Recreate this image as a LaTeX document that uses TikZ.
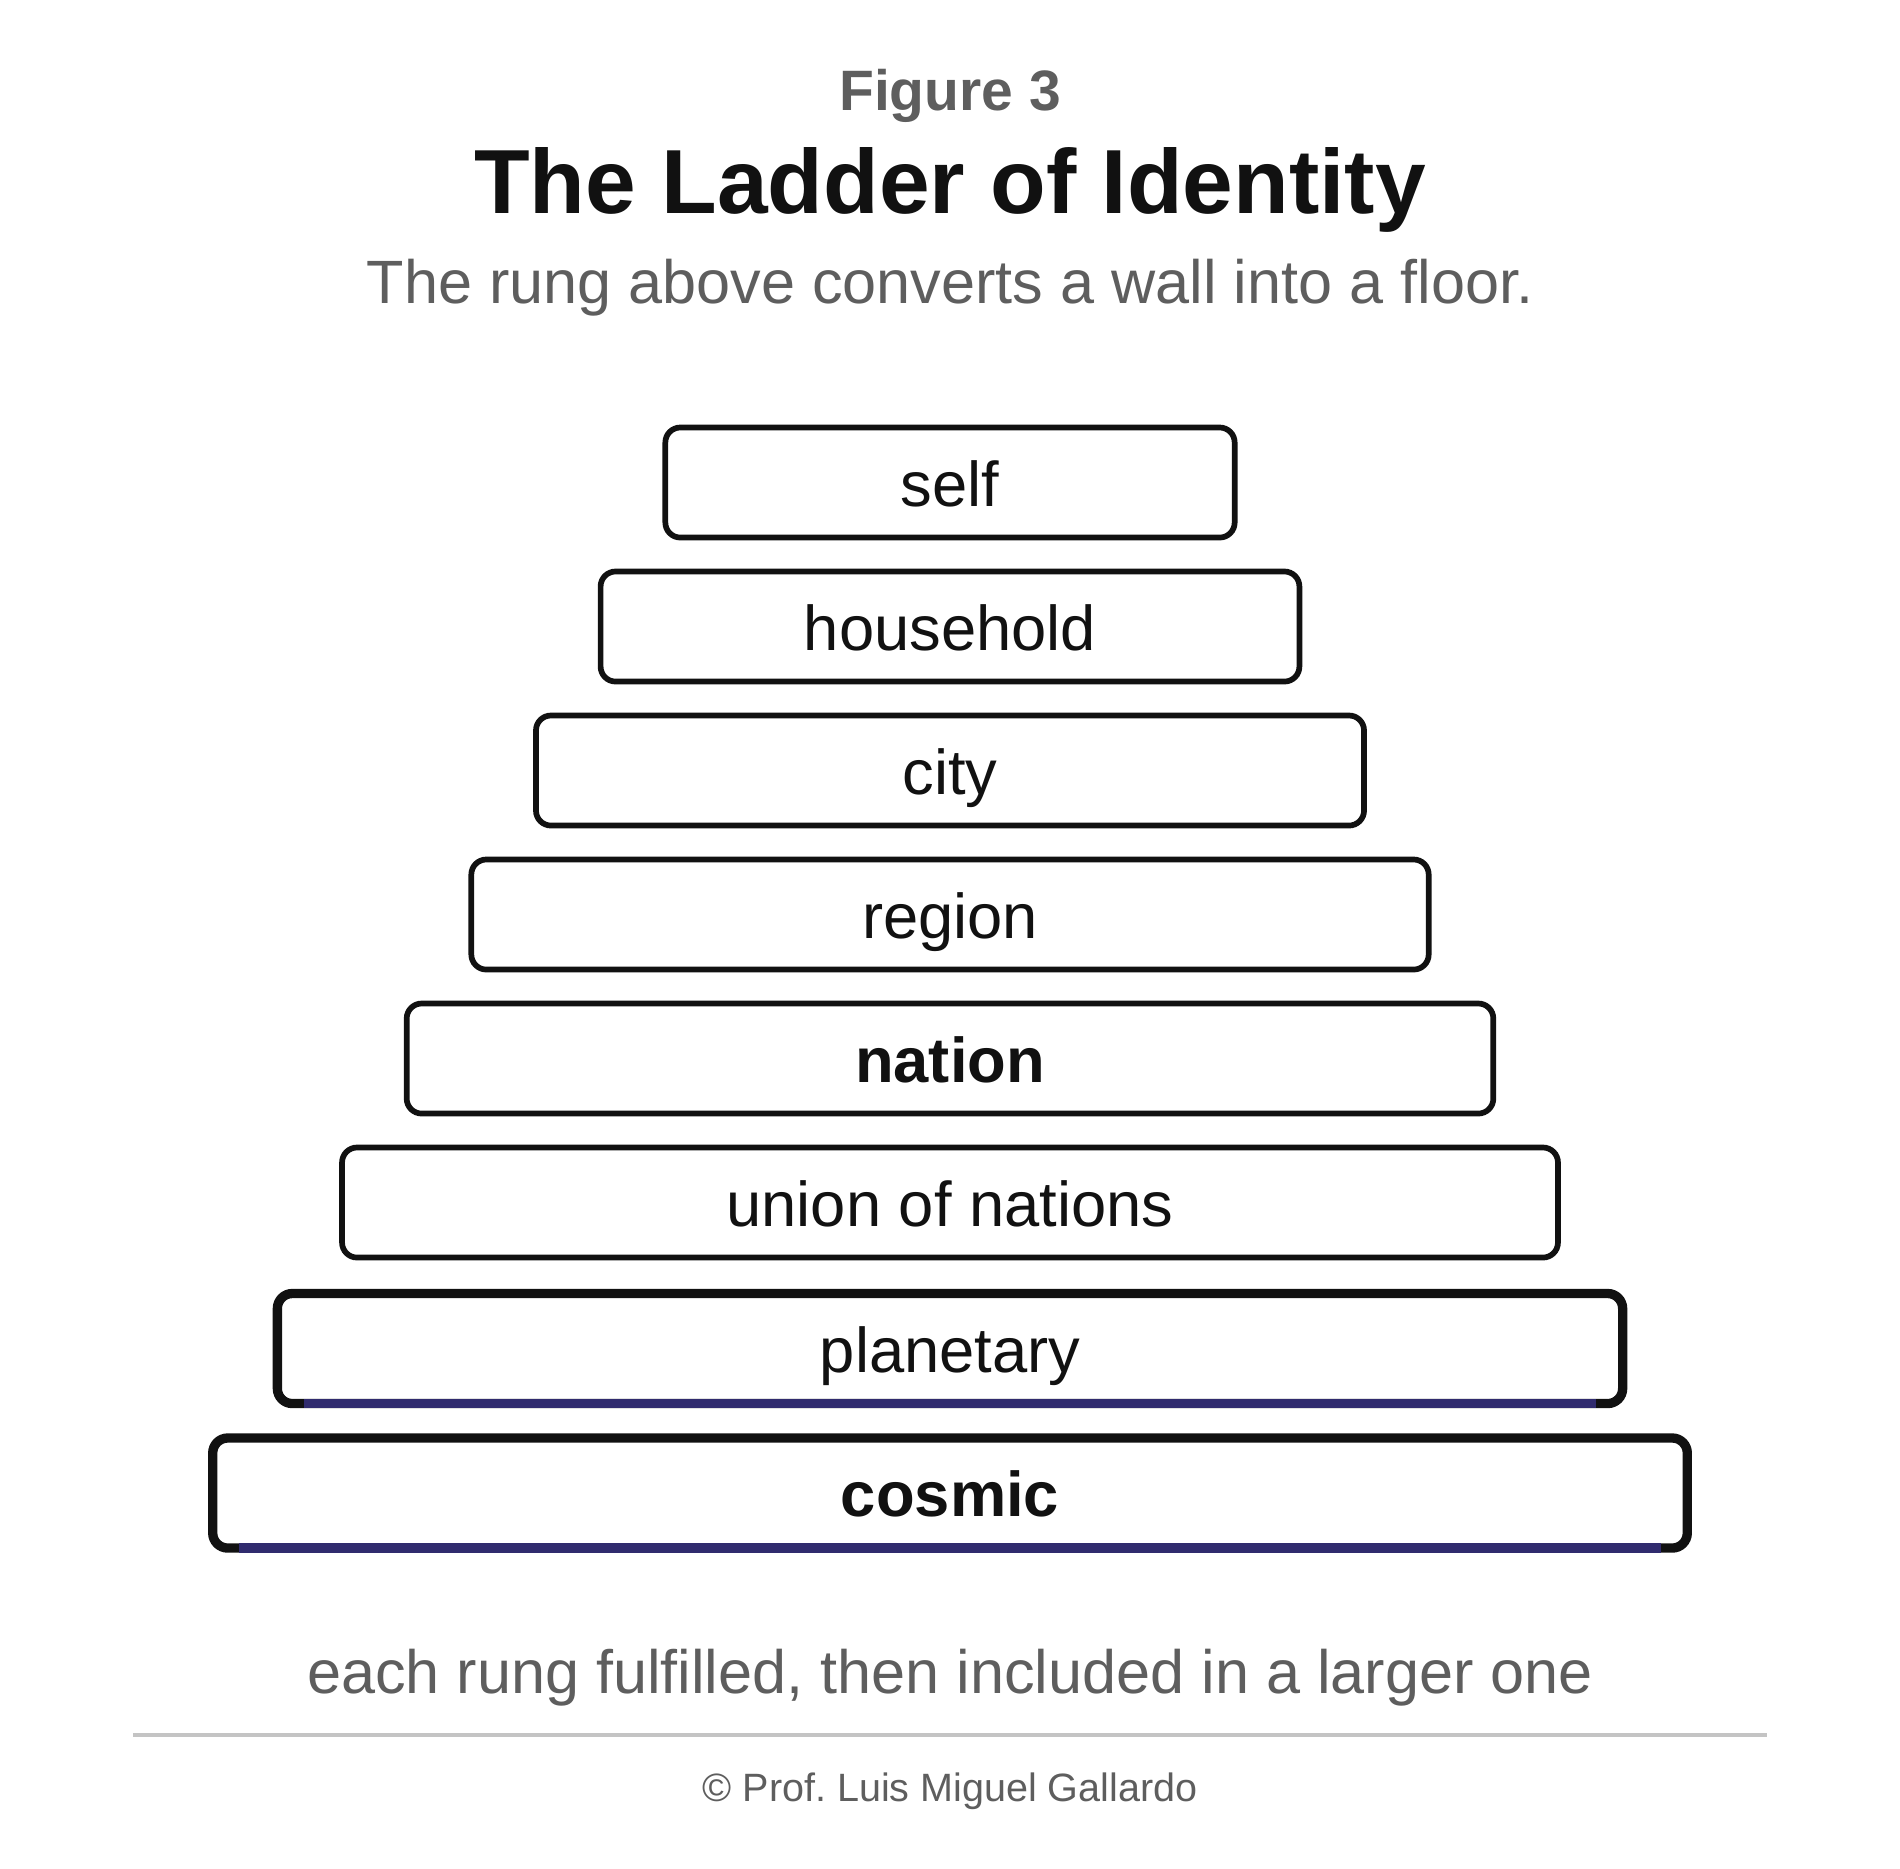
\documentclass[tikz,border=0pt]{standalone}
\usepackage{fontspec}
\setmainfont{Liberation Sans}
\definecolor{inkblack}{HTML}{111111}
\definecolor{softgray}{HTML}{5E5E5E}
\definecolor{floorblue}{HTML}{302B6E}
\definecolor{rulegray}{HTML}{C4C4C4}
\begin{document}
\begin{tikzpicture}[x=0.01cm,y=-0.01cm]
	\tikzstyle{Rung} = [rectangle, draw=inkblack, fill=white, line width=1.62pt, rounded corners=0.15cm, outer sep=0pt, inner sep=0pt, minimum height=1.1cm, text height=0.474cm, text depth=0cm, text=inkblack, font=\fontsize{18pt}{20pt}\selectfont]
	\tikzstyle{Thick} = [line width=2.65pt]
	\tikzstyle{Floor} = [draw=floorblue, line width=2.65pt]
	\tikzstyle{Caption} = [anchor=base, inner sep=0pt, text=softgray]
	\useasboundingbox (0,0) rectangle (1900,1868);
	\node (fig) at (950,110.7) [Caption, font=\bfseries\fontsize{16.2pt}{19pt}\selectfont] {Figure 3};
	\node (title) at (950,213.3) [Caption, text=inkblack, font=\bfseries\fontsize{25.9pt}{30pt}\selectfont] {The Ladder of Identity};
	\node (sub) at (950,303.3) [Caption, font=\fontsize{17.4pt}{20pt}\selectfont] {The rung above converts a wall into a floor.};
	\node (self) at (950,482.5) [Rung, minimum width=5.69cm] {self};
	\node (household) at (950,626.5) [Rung, minimum width=6.984cm] {household};
	\node (city) at (950,770.5) [Rung, minimum width=8.276cm] {city};
	\node (region) at (950,914.5) [Rung, minimum width=9.568cm] {region};
	\node (nation) at (950,1058.5) [Rung, minimum width=10.86cm, font=\bfseries\fontsize{18pt}{20pt}\selectfont] {nation};
	\node (union) at (950,1202.5) [Rung, minimum width=12.152cm] {union of nations};
	\node (planetary) at (950,1348.5) [Rung, Thick, minimum width=13.445cm] {planetary};
	\node (cosmic) at (950,1493) [Rung, Thick, minimum width=14.737cm, font=\bfseries\fontsize{18pt}{20pt}\selectfont] {cosmic};
	\draw[Floor] ([xshift=0.264cm]planetary.south west) -- ([xshift=-0.264cm]planetary.south east);
	\draw[Floor] ([xshift=0.264cm]cosmic.south west) -- ([xshift=-0.264cm]cosmic.south east);
	\node (note) at (950,1693.3) [Caption, font=\fontsize{17.4pt}{20pt}\selectfont] {each rung fulfilled, then included in a larger one};
	\coordinate (ruleL) at (133,1734.7);
	\coordinate (ruleR) at (1767,1734.7);
	\draw[rulegray, line width=1.14pt] (ruleL) -- (ruleR);
	\node (credit) at (950,1801.7) [Caption, font=\fontsize{11.24pt}{13pt}\selectfont] {© Prof.\ Luis Miguel Gallardo};
\end{tikzpicture}
\end{document}
